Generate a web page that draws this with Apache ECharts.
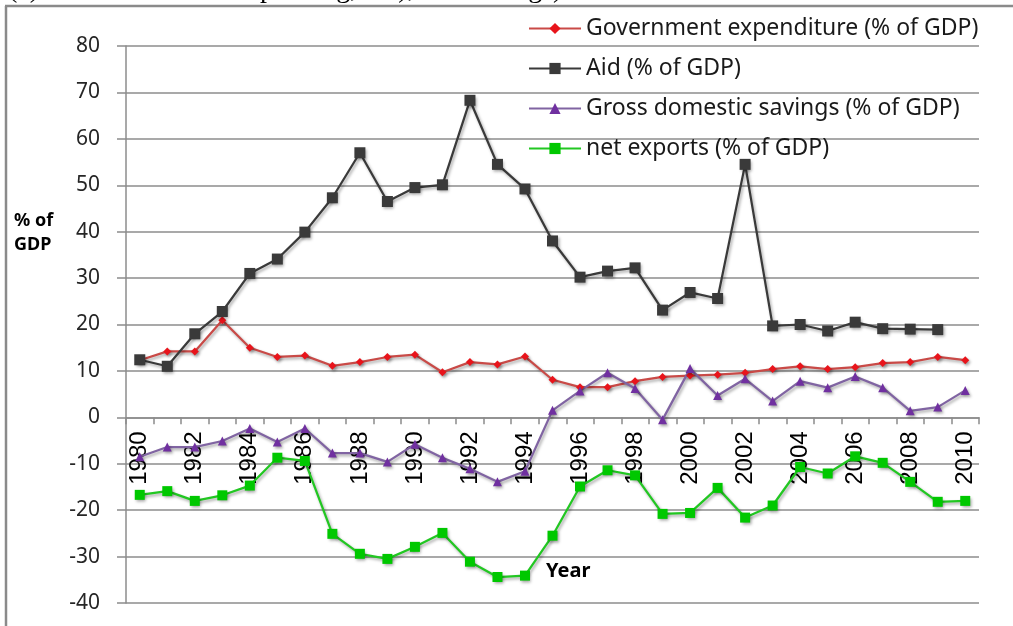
<!DOCTYPE html>
<html><head><meta charset="utf-8">
<script src="https://cdn.jsdelivr.net/npm/echarts@6/dist/echarts.min.js"></script>
<style>html,body{margin:0;padding:0;background:#fff}#c{width:1013px;height:626px}</style>
</head><body><div id="c"></div>
<script>
const years = ['1980','1981','1982','1983','1984','1985','1986','1987','1988','1989','1990','1991','1992','1993','1994','1995','1996','1997','1998','1999','2000','2001','2002','2003','2004','2005','2006','2007','2008','2009','2010'];
const govExpenditure = [12.3,14.2,14.2,20.9,15.0,13.0,13.3,11.1,11.9,13.0,13.5,9.7,11.9,11.4,13.1,8.1,6.5,6.5,7.8,8.7,9.0,9.2,9.6,10.4,11.0,10.4,10.8,11.7,11.9,13.0,12.3];
const aid = [12.4,11.0,18.0,22.8,31.0,34.1,39.9,47.3,57.0,46.5,49.5,50.1,68.3,54.5,49.2,38.0,30.2,31.5,32.2,23.1,26.9,25.6,54.5,19.7,20.0,18.6,20.5,19.1,19.0,18.9,null];
const savings = [-8.5,-6.4,-6.4,-5.1,-2.4,-5.3,-2.4,-7.7,-7.7,-9.6,-5.8,-8.7,-11.1,-13.9,-11.6,1.5,5.7,9.6,6.2,-0.5,10.5,4.7,8.3,3.5,7.8,6.4,8.8,6.4,1.4,2.2,5.8];
const netExports = [-16.7,-15.9,-18.0,-16.8,-14.7,-8.7,-9.4,-25.1,-29.4,-30.5,-27.9,-24.9,-31.1,-34.4,-34.1,-25.5,-14.9,-11.4,-12.5,-20.8,-20.6,-15.2,-21.6,-19.0,-10.7,-12.1,-8.4,-9.8,-13.9,-18.2,-18.0];
const seriesNames = ['Government expenditure (% of GDP)','Aid (% of GDP)','Gross domestic savings (% of GDP)','net exports (% of GDP)'];
const yMin = -40, yMax = 80, yStep = 10;

const gridTop = 46, gridBottom = 23, chartH = 626;
// the category axis crosses the value axis at 0
const plotH = chartH - gridTop - gridBottom;
const zeroOffset = -plotH * (0 - yMin) / (yMax - yMin);

const shadow = {shadowColor:'rgba(0,0,0,0.35)', shadowBlur:3, shadowOffsetX:1.5, shadowOffsetY:2};
function mk(name, data, lineColor, markColor, symbol, size){
  return {
    name, type:'line', data, symbol, symbolSize:size, connectNulls:false,
    lineStyle:Object.assign({color:lineColor, width:2.25}, shadow),
    itemStyle:Object.assign({color:markColor, borderWidth:0}, shadow),
    emphasis:{disabled:true}, animation:false
  };
}
const chart = echarts.init(document.getElementById('c'), null, {renderer:'canvas'});
chart.setOption({
  backgroundColor:'#fff',
  animation:false,
  grid:{left:126, right:34, top:gridTop, bottom:gridBottom, containLabel:false, outerBoundsMode:'none'},
  legend:{
    orient:'vertical', left:523, top:12, itemWidth:52, itemHeight:14, itemGap:17,
    textStyle:{fontFamily:'Noto Sans', fontSize:23, color:'#1a1a1a', padding:[0,0,0,0]},
    data:seriesNames
  },
  xAxis:{
    type:'category', data:years, boundaryGap:true, offset:zeroOffset,
    axisLine:{onZero:false, lineStyle:{color:'#8c8c8c', width:1.5}},
    axisTick:{show:true, interval:0, length:7, alignWithLabel:false, lineStyle:{color:'#8c8c8c', width:1.5}},
    axisLabel:{interval:1, rotate:90, margin:14, fontFamily:'Liberation Sans', fontSize:24, color:'#000'},
    splitLine:{show:false}
  },
  yAxis:{
    type:'value', min:yMin, max:yMax, interval:yStep,
    axisLine:{show:true, lineStyle:{color:'#8c8c8c', width:1.5}},
    axisTick:{show:true, length:9, lineStyle:{color:'#8c8c8c', width:1.5}},
    axisLabel:{margin:26, fontFamily:'Noto Sans', fontSize:21, color:'#262626'},
    splitLine:{show:true, lineStyle:{color:'#8c8c8c', width:1.5}}
  },
  graphic:[
    {type:'line', shape:{x1:6, y1:6, x2:6, y2:626}, style:{stroke:'#8a8a8a', lineWidth:2.5}},
    {type:'line', shape:{x1:5, y1:6, x2:1013, y2:6}, style:{stroke:'#8a8a8a', lineWidth:2.5}},
    {type:'text', left:8, top:-24, style:{text:'(c)         Government spending, aid), and savings)', fontFamily:'Liberation Serif', fontSize:28, fill:'#000'}},
    {type:'text', left:14, top:209, style:{text:'% of\nGDP', fontFamily:'Noto Sans', fontWeight:'bold', fontSize:18, lineHeight:24, fill:'#000'}},
    {type:'text', left:546, top:561, style:{text:'Year', fontFamily:'Noto Sans', fontWeight:'bold', fontSize:20, fill:'#000'}}
  ],
  series:[
    mk(seriesNames[0], govExpenditure, '#c94a47', '#e8141b', 'diamond', 8),
    mk(seriesNames[1], aid, '#3a3a3a', '#3a3a3a', 'rect', 11),
    mk(seriesNames[2], savings, '#8064a2', '#7030a0', 'triangle', 9),
    mk(seriesNames[3], netExports, '#22c722', '#00c800', 'rect', 10)
  ]
});
</script></body></html>
